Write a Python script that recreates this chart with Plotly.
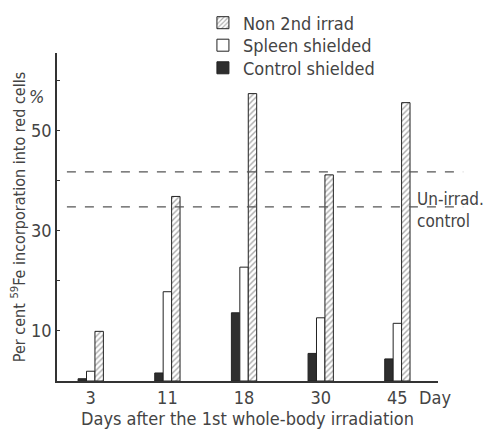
import plotly.graph_objects as go

days = ["3", "11", "18", "30", "45"]
control_shielded = [0.45, 1.6, 13.6, 5.5, 4.4]
spleen_shielded = [1.95, 17.8, 22.7, 12.6, 11.5]
non_2nd_irrad = [9.9, 36.8, 57.3, 41.1, 55.5]
unirrad_control = [41.7, 34.7]
ytick_vals = [10, 30, 50]
ytick_text = ["10", "30", "50"]
yminor_vals = [20, 40, 60]

FONT = "DejaVu Sans Condensed, Liberation Sans Narrow, Arial Narrow, sans-serif"
TXT = "#444444"
LINE = "#333333"

fig = go.Figure()
fig.add_trace(go.Bar(
    x=days, y=control_shielded, name="Control shielded", legend="legend3",
    showlegend=True,
    marker=dict(color="#2e2e2e", line=dict(color="#222", width=1)),
))
fig.add_trace(go.Bar(
    x=days, y=spleen_shielded, name="Spleen shielded", legend="legend2",
    showlegend=True,
    marker=dict(color="white", line=dict(color="#222", width=1)),
))
fig.add_trace(go.Bar(
    x=days, y=non_2nd_irrad, name="Non 2nd irrad", legend="legend",
    showlegend=True,
    marker=dict(color="white", line=dict(color="#222", width=1),
                pattern=dict(shape="/", fgcolor="#555", bgcolor="white",
                             size=4, solidity=0.35)),
))

for v in unirrad_control:
    fig.add_shape(type="line", xref="paper", yref="y", x0=0.026, x1=1.066,
                  y0=v, y1=v, line=dict(color="#555", width=1.2, dash="dash"))

fig.add_annotation(xref="paper", yref="y", x=0.94, y=34.0, xanchor="left",
                   yanchor="middle", align="left", showarrow=False,
                   text="Un-irrad.<br>control",
                   font=dict(family=FONT, size=17, color=TXT))
fig.add_annotation(xref="paper", yref="paper", x=0.992, y=-0.049, xanchor="center",
                   yanchor="middle", showarrow=False, text="Day",
                   font=dict(family=FONT, size=18, color=TXT))
fig.add_annotation(xref="paper", yref="y", x=-0.03, y=56.7, xanchor="right",
                   yanchor="middle", showarrow=False, text="<i>%</i>",
                   font=dict(family=FONT, size=18, color=TXT))

leg_common = dict(x=0.383, xanchor="left", yanchor="middle",
                  bgcolor="rgba(0,0,0,0)", itemclick=False, visible=True,
                  font=dict(family=FONT, size=18, color=TXT))

fig.update_layout(
    width=487, height=421,
    margin=dict(l=49, r=57, t=45, b=48, autoexpand=False),
    paper_bgcolor="white", plot_bgcolor="white",
    showlegend=True,
    barmode="group", bargap=0.67, bargroupgap=0,
    font=dict(family=FONT, size=18, color=TXT),
    legend=dict(y=1.0915, **leg_common),
    legend2=dict(y=1.0229, **leg_common),
    legend3=dict(y=0.954, **leg_common),
    xaxis=dict(
        range=[-0.44, 4.53], showline=True, linecolor=LINE, linewidth=1.5,
        ticks="", showgrid=False, zeroline=False, automargin=False,
        tickfont=dict(family=FONT, size=18, color=TXT),
        title=dict(text="Days after the 1st whole-body irradiation",
                   font=dict(family=FONT, size=18, color=TXT), standoff=2),
    ),
    yaxis=dict(
        range=[0, 65.4], showline=True, linecolor=LINE, linewidth=1.5,
        ticks="inside", ticklen=3, tickcolor=LINE,
        tickvals=ytick_vals, ticktext=ytick_text,
        minor=dict(tickvals=yminor_vals, ticks="inside", ticklen=3,
                   tickcolor=LINE, showgrid=False),
        showgrid=False, zeroline=False, automargin=False,
        tickfont=dict(family=FONT, size=18, color=TXT),
        title=dict(text="Per cent <sup>59</sup>Fe incorporation into red cells",
                   font=dict(family=FONT, size=16, color=TXT), standoff=4),
    ),
)

fig.write_html("out.html")
